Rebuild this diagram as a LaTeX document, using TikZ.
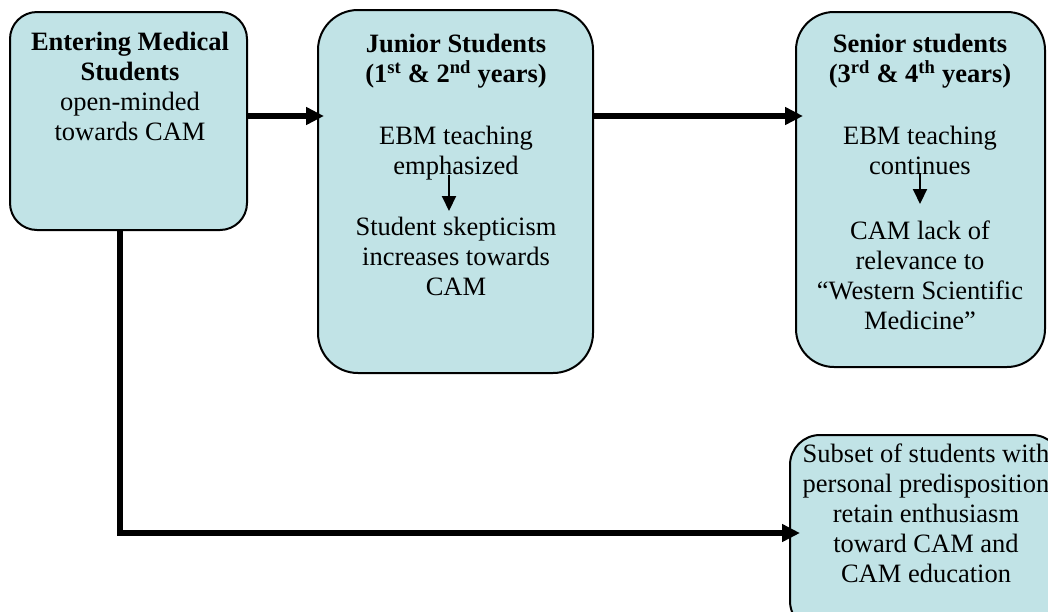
\documentclass[tikz,border=0pt]{standalone}
\usepackage{fontspec}
\setmainfont{Liberation Serif}
\usetikzlibrary{arrows.meta}
\definecolor{boxfill}{RGB}{193,227,230}
\tikzset{
  box/.style={draw=black, line width=2pt, fill=boxfill, inner sep=0pt},
  txt/.style={align=center, inner sep=0pt, font=\fontsize{26.5}{30}\selectfont},
  thickarrow/.style={line width=6pt, -{Triangle[length=18pt,width=17pt]}},
  thinarrow/.style={line width=2pt, -{Triangle[length=15pt,width=14pt]}}
}
\begin{document}
\begin{tikzpicture}[x=1pt,y=-1pt]
\useasboundingbox (0,0) rectangle (1048,611);
% boxes
\node[box, minimum width=237pt, minimum height=218pt, rounded corners=27pt] (b1) at (128.5,121) {};
\node[box, minimum width=275pt, minimum height=363pt, rounded corners=40pt] (b2) at (455.5,191.5) {};
\node[box, minimum width=249pt, minimum height=355pt, rounded corners=38pt] (b3) at (920.5,189.5) {};
\node[box, minimum width=272pt, minimum height=196pt, rounded corners=30pt] (b4) at (926,533) {};
% texts
\node[txt, anchor=north] (e1) at (130,32) {\textbf{Entering Medical}\\\textbf{Students}\\open-minded\\towards CAM};
\node[txt, anchor=north, font=\fontsize{26.5}{30}\selectfont\bfseries] (j1) at (456,34) {Junior Students\\(1\textsuperscript{st} \& 2\textsuperscript{nd} years)};
\node[txt, anchor=north] (j2) at (456,126) {EBM teaching\\emphasized};
\node[txt, anchor=north] (j3) at (456,217) {Student skepticism\\increases towards\\CAM};
\node[txt, anchor=north, font=\fontsize{26.5}{30}\selectfont\bfseries] (s1) at (920,34) {Senior students\\(3\textsuperscript{rd} \& 4\textsuperscript{th} years)};
\node[txt, anchor=north] (s2) at (920,126) {EBM teaching\\continues};
\node[txt, anchor=north] (s3) at (920,221) {CAM lack of\\relevance to\\“Western Scientific\\Medicine”};
\node[txt, anchor=north] (u1) at (926,444) {Subset of students with\\personal predisposition\\retain enthusiasm\\toward CAM and\\CAM education};
% connectors
\coordinate (r1) at (0,116);
\draw[thickarrow, shorten >=-7pt] (b1.east |- r1) -- (b2.west |- r1);
\draw[thickarrow, shorten >=-8pt] (b2.east |- r1) -- (b3.west |- r1);
\draw[thickarrow, shorten >=-11pt] ([xshift=-8.5pt]b1.south) |- (b4.west);
\draw[thinarrow, shorten >=6pt] ([xshift=-7pt,yshift=5pt]j2.south) -- ([xshift=-7pt]j3.north);
\draw[thinarrow, shorten >=17pt] ([yshift=2pt]s2.south) -- (s3.north);
\end{tikzpicture}
\end{document}
